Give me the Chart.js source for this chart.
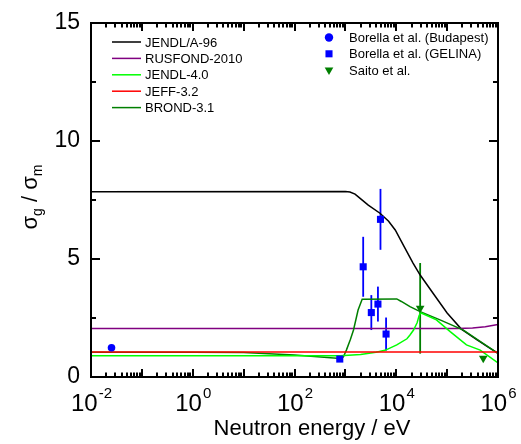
<!DOCTYPE html>
<html><head><meta charset="utf-8">
<script src="https://cdn.jsdelivr.net/npm/chart.js@4.4.1/dist/chart.umd.min.js"></script>
<style>html,body{margin:0;padding:0;background:#fff;}#wrap{width:521px;height:444px;}</style>
</head><body><div id="wrap"><canvas id="c" width="521" height="444"></canvas></div>
<script>
const FONT = '"Liberation Sans", Arial, Helvetica, sans-serif';

// ---- evaluated data (energy in eV, ratio sigma_g/sigma_m) ----
const jendlA96E = [0.01, 1000, 1230, 1549, 1950, 2818, 4786, 7079, 9550, 14125, 21380, 29512, 52481, 100000, 190546, 389045, 630957, 1000000];
const jendlA96Y = [7.85, 7.86, 7.84, 7.75, 7.57, 7.28, 6.94, 6.60, 6.23, 5.55, 4.83, 4.32, 3.56, 2.71, 2.03, 1.57, 1.28, 1.00];

const rusfondE = [0.01, 158489, 316228, 562341, 1000000];
const rusfondY = [2.06, 2.06, 2.08, 2.13, 2.22];

const jendl40E = [0.01, 794, 1995, 3981, 6026, 10233, 16218, 18621, 21878, 25704, 28184, 30200, 61660, 114815, 239883, 446684, 1000000];
const jendl40Y = [0.90, 0.90, 0.95, 1.05, 1.13, 1.36, 1.62, 1.78, 1.99, 2.30, 2.60, 2.72, 2.42, 1.92, 1.36, 1.14, 0.60];

const jeffE = [0.01, 1000000];
const jeffY = [1.06, 1.06];

const brondE = [0.01, 1, 10, 100, 794, 912, 1047, 1259, 1445, 1778, 2138, 10233, 12589, 18621, 29512, 72444, 208930, 1000000];
const brondY = [1.05, 1.05, 1.04, 0.93, 0.78, 0.85, 1.14, 1.60, 1.99, 2.84, 3.29, 3.31, 3.20, 2.98, 2.77, 2.42, 1.99, 1.00];

// ---- experimental data ----
const budapestE = [0.0253];
const budapestY = [1.24];
const budapestErr = [0];

const gelinaE = [776, 2239, 3236, 4365, 4898, 6310];
const gelinaY = [0.76, 4.67, 2.73, 3.09, 6.68, 1.82];
const gelinaErr = [0, 1.27, 0.74, 0.74, 1.29, 0.70];

const saitoE = [29512, 512861];
const saitoY = [2.91, 0.79];
const saitoErr = [1.92, 0];

// ---- axis ticks ----
const xTickExponents = [-2, 0, 2, 4, 6];
const yTickValues = [0, 5, 10, 15];
const yMinorValues = [2.5, 7.5, 12.5];

const pts = (xs, ys) => xs.map((x, i) => ({x: x, y: ys[i]}));

const lineDs = (label, xs, ys, color) => ({
  label: label, data: pts(xs, ys), showLine: true, borderColor: color,
  backgroundColor: color, borderWidth: 1.5, pointRadius: 0, tension: 0
});

const datasets = [
  {label: 'Borella et al. (Budapest)', data: pts(budapestE, budapestY), err: budapestErr,
   pointStyle: 'circle', pointRadius: 3.8, backgroundColor: '#0000FF', borderColor: '#0000FF', borderWidth: 0, showLine: false},
  {label: 'Borella et al. (GELINA)', data: pts(gelinaE, gelinaY), err: gelinaErr,
   pointStyle: 'rect', pointRadius: 5, backgroundColor: '#0000FF', borderColor: '#0000FF', borderWidth: 0, showLine: false},
  {label: 'Saito et al.', data: pts(saitoE, saitoY), err: saitoErr,
   pointStyle: 'triangle', rotation: 180, pointRadius: 5, backgroundColor: '#007F00', borderColor: '#007F00', borderWidth: 0, showLine: false},
  lineDs('JEFF-3.2', jeffE, jeffY, '#FF0000'),
  lineDs('JENDL-4.0', jendl40E, jendl40Y, '#00FF00'),
  lineDs('BROND-3.1', brondE, brondY, '#007F00'),
  lineDs('RUSFOND-2010', rusfondE, rusfondY, '#800080'),
  lineDs('JENDL/A-96', jendlA96E, jendlA96Y, '#000000')
];

const lineLegendOrder = ['JENDL/A-96', 'RUSFOND-2010', 'JENDL-4.0', 'JEFF-3.2', 'BROND-3.1'];
const pointLegendOrder = ['Borella et al. (Budapest)', 'Borella et al. (GELINA)', 'Saito et al.'];

const errorBars = {
  id: 'errorBars',
  beforeDatasetsDraw(chart) {
    const ctx = chart.ctx, xs = chart.scales.x, ys = chart.scales.y;
    ctx.save();
    chart.data.datasets.forEach(ds => {
      if (!ds.err) return;
      ctx.fillStyle = ds.borderColor;
      ds.data.forEach((p, i) => {
        const e = ds.err[i]; if (!e) return;
        const px = xs.getPixelForValue(p.x);
        const y1 = ys.getPixelForValue(p.y + e), y2 = ys.getPixelForValue(p.y - e);
        ctx.fillRect(px - 0.9, y1, 1.8, y2 - y1);
      });
    });
    ctx.restore();
  }
};

const frame = {
  id: 'frame',
  afterDraw(chart) {
    const ctx = chart.ctx, a = chart.chartArea, xs = chart.scales.x, ys = chart.scales.y;
    ctx.save();
    ctx.fillStyle = '#000';
    // frame
    ctx.lineWidth = 2; ctx.strokeStyle = '#000';
    ctx.strokeRect(a.left, a.top, a.right - a.left, a.bottom - a.top);
    // x ticks (inward, bottom and top)
    for (let k = -2; k <= 6; k++) {
      for (let m = 1; m <= 9; m++) {
        const v = m * Math.pow(10, k);
        if (v > 1e6 * 1.0001) continue;
        const px = Math.round(xs.getPixelForValue(v));
        const len = (m === 1) ? 8 : 4.5;
        ctx.fillRect(px - 1, a.bottom - len, 2, len);
        ctx.fillRect(px - 1, a.top, 2, len);
      }
    }
    // y ticks (inward, left and right)
    yTickValues.forEach(v => {
      const py = Math.round(ys.getPixelForValue(v));
      ctx.fillRect(a.left, py - 1, 9, 2);
      ctx.fillRect(a.right - 9, py - 1, 9, 2);
    });
    yMinorValues.forEach(v => {
      const py = Math.round(ys.getPixelForValue(v));
      ctx.fillRect(a.left, py - 1, 5, 2);
      ctx.fillRect(a.right - 5, py - 1, 5, 2);
    });

    // y tick labels
    ctx.font = '23px ' + FONT;
    ctx.textAlign = 'right'; ctx.textBaseline = 'middle';
    yTickValues.forEach(v => ctx.fillText(String(v), 80, ys.getPixelForValue(v)));

    // x tick labels with superscripts
    ctx.textAlign = 'left'; ctx.textBaseline = 'alphabetic';
    xTickExponents.forEach(k => {
      const px = xs.getPixelForValue(Math.pow(10, k));
      ctx.font = '24px ' + FONT; const wb = ctx.measureText('10').width;
      const ex = (k < 0 ? '-' : '') + Math.abs(k);
      ctx.font = '15px ' + FONT; const we = ctx.measureText(ex).width;
      const x0 = px - (wb + we) / 2;
      ctx.font = '24px ' + FONT; ctx.fillText('10', x0, 411);
      ctx.font = '15px ' + FONT; ctx.fillText(ex, x0 + wb + 1, 398);
    });

    // x title
    ctx.font = '22px ' + FONT; ctx.textAlign = 'center';
    ctx.fillText('Neutron energy / eV', 312, 435);

    // y title (rotated, with subscripts)
    ctx.save();
    ctx.translate(37, 197); ctx.rotate(-Math.PI / 2);
    const parts = [['σ', 22, 0], ['g', 14, 5], [' / ', 22, 0], ['σ', 22, 0], ['m', 14, 5]];
    let total = 0;
    parts.forEach(p => { ctx.font = p[1] + 'px ' + FONT; p.push(ctx.measureText(p[0]).width); total += p[3]; });
    let cx = -total / 2; ctx.textAlign = 'left';
    parts.forEach(p => { ctx.font = p[1] + 'px ' + FONT; ctx.fillText(p[0], cx, p[2]); cx += p[3]; });
    ctx.restore();

    // legends
    ctx.font = '13px ' + FONT; ctx.textAlign = 'left'; ctx.textBaseline = 'middle';
    lineLegendOrder.forEach((name, i) => {
      const ds = chart.data.datasets.find(d => d.label === name);
      const y = 42 + i * 16.4;
      ctx.fillStyle = ds.borderColor;
      ctx.fillRect(112, y - 0.75, 29, 1.5);
      ctx.fillStyle = '#000'; ctx.fillText(name, 145, y + 1);
    });
    pointLegendOrder.forEach((name, i) => {
      const ds = chart.data.datasets.find(d => d.label === name);
      const y = 37.5 + i * 16.3;
      ctx.fillStyle = ds.backgroundColor;
      Chart.helpers.drawPoint(ctx, {pointStyle: ds.pointStyle, rotation: ds.rotation || 0, radius: ds.pointStyle === 'circle' ? 4.2 : 5, borderWidth: 0}, 329, y);
      ctx.fillStyle = '#000'; ctx.fillText(name, 349, y + 1);
    });
    ctx.restore();
  }
};

new Chart(document.getElementById('c'), {
  type: 'scatter',
  data: {datasets: datasets},
  options: {
    responsive: false, animation: false, devicePixelRatio: 1,
    layout: {padding: {left: 91, right: 23, top: 23, bottom: 67}},
    plugins: {legend: {display: false}, tooltip: {enabled: false}},
    scales: {
      x: {type: 'logarithmic', min: 0.01, max: 1000000, display: false},
      y: {type: 'linear', min: 0, max: 15, display: false}
    }
  },
  plugins: [errorBars, frame]
});
</script></body></html>
